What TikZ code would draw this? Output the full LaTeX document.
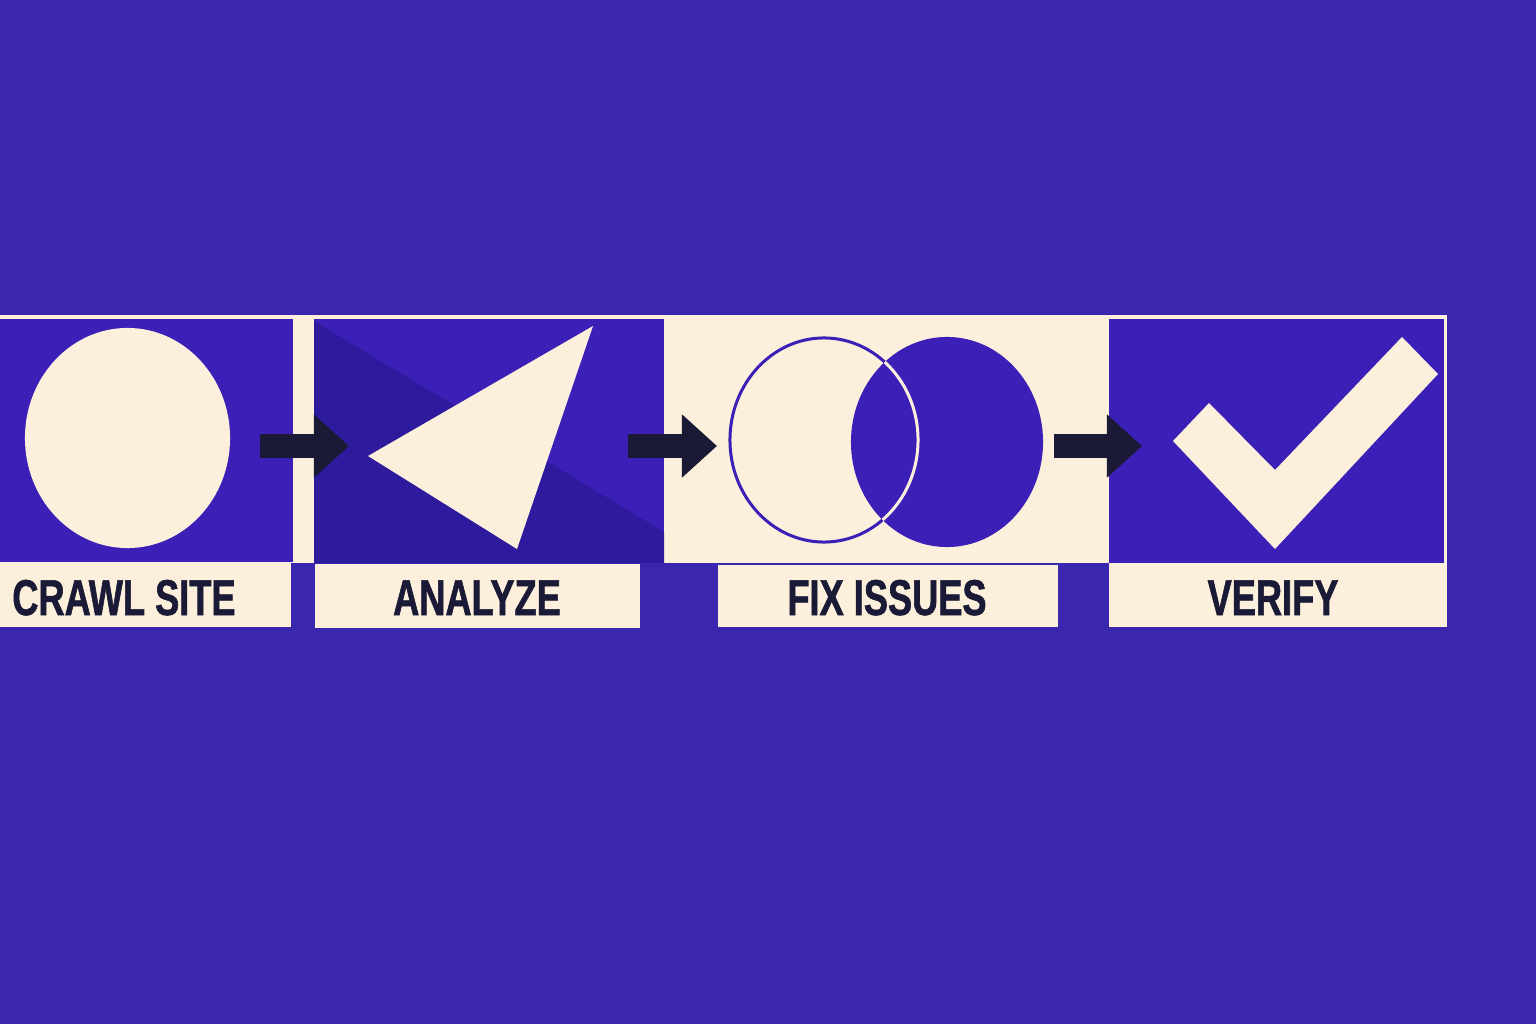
\documentclass[tikz,border=0pt]{standalone}
\usepackage{fontspec}
\usetikzlibrary{arrows.meta}
\newfontfamily\lblfont[FakeStretch=0.72,FakeBold=1.2]{Liberation Sans}
\definecolor{bgblue}{HTML}{3A27AE}
\definecolor{panelblue}{HTML}{3C1FB6}
\definecolor{shadeblue}{HTML}{2E1A9C}
\definecolor{cream}{HTML}{FCF0DC}
\definecolor{navy}{HTML}{1A1A36}
\tikzset{
  flow/.style={navy, line width=0.24cm, -{Triangle[length=0.35cm,width=0.61cm]}},
  lbltext/.style={anchor=base, text=navy, inner sep=0pt, font=\lblfont\bfseries\fontsize{14.3}{16}\selectfont},
}
\begin{document}
\begin{tikzpicture}[x=0.01cm,y=-0.01cm]
                % Background
                \fill[bgblue] (0,0) rectangle (1536,1024);
                \useasboundingbox (0,0) rectangle (1536,1024);

                % Cream frame behind the panels
                \fill[cream] (0,315) rectangle (1447,563);

                % Crawl site panel
                \fill[panelblue] (0,319) rectangle (293,562);
                \fill[cream] (127.5,438) ellipse [x radius=1.025cm, y radius=1.10cm];

                % Analyze panel
                \fill[panelblue] (314,319) rectangle (664,563);
                \fill[shadeblue] (314,321) -- (664,532) -- (664,563) -- (314,563) -- cycle;
                \fill[cream] (368,456) -- (593,326) -- (517,549) -- cycle;

                % Fix issues panel (cream, two ovals)
                \draw[panelblue, line width=0.03cm] (824,440) ellipse [x radius=0.94cm, y radius=1.02cm];
                \fill[panelblue] (947,442) ellipse [x radius=0.96cm, y radius=1.05cm];
                \begin{scope}
                  \clip (947,442) ellipse [x radius=0.96cm, y radius=1.05cm];
                  \draw[cream, line width=0.03cm] (824,440) ellipse [x radius=0.94cm, y radius=1.02cm];
                \end{scope}

                % Verify panel
                \fill[panelblue] (1109,319) rectangle (1444,563);
                \fill[cream] (1173,441) -- (1209,403) -- (1275,470) -- (1402,337)
                  -- (1438,374) -- (1275,549) -- cycle;

                % Label boxes
                \fill[cream] (0,562) rectangle (291,627);
                \fill[cream] (315,564) rectangle (640,628);
                \fill[cream] (718,565) rectangle (1058,627);
                \fill[cream] (1109,563) rectangle (1447,627);

                % Labels
                \node[lbltext] (crawl) at (124,615) {CRAWL SITE};
                \node[lbltext] (analyze) at (477,615) {ANALYZE};
                \node[lbltext] (fix) at (887,615) {FIX ISSUES};
                \node[lbltext] (verify) at (1273,615) {VERIFY};

                % Arrows between the steps
                \coordinate (s1) at (260,446);
                \coordinate (t1) at (349,446);
                \coordinate (s2) at (628,446);
                \coordinate (t2) at (717,446);
                \coordinate (s3) at (1054,446);
                \coordinate (t3) at (1142,446);
                \draw[flow] (s1) -- (t1);
                \draw[flow] (s2) -- (t2);
                \draw[flow] (s3) -- (t3);
              \end{tikzpicture}
\end{document}
